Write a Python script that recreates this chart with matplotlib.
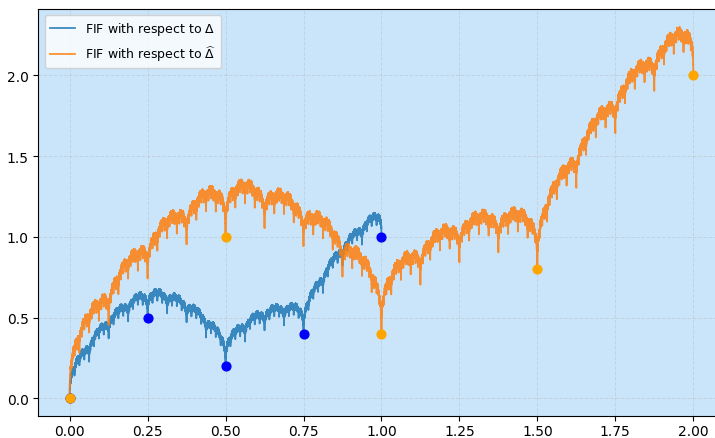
import numpy as np
import matplotlib.pyplot as plt

# interpolation data on the partition Delta and on the rescaled partition Delta-hat
x_delta = [0.0, 0.25, 0.5, 0.75, 1.0]
y_delta = [0.0, 0.5, 0.2, 0.4, 1.0]
x_hat = [0.0, 0.5, 1.0, 1.5, 2.0]
y_hat = [0.0, 1.0, 0.4, 0.8, 2.0]

scale = 0.55     # vertical scaling factor of each map
bump = 0.22      # height of the base function, relative to the total rise
levels = 8       # depth of the IFS iteration


def fif(xs, ys, scale, bump, levels):
    # alpha-fractal function: f(L_i x) = g(L_i x) + scale * (f(x) - b(x)),
    # g the polygon through the data, g - b a bump vanishing at the ends
    xs = np.asarray(xs)
    ys = np.asarray(ys)
    n = len(xs) - 1
    height = bump * (ys[-1] - ys[0])
    h = np.zeros(2)
    for _ in range(levels):
        t = np.linspace(0, 1, len(h))
        piece = scale * (h + height * np.sqrt(np.sin(np.pi * t).clip(0)))
        h = np.concatenate([piece[:-1]] * n + [piece[-1:]])
    t = np.linspace(0, 1, len(h))
    x = xs[0] + t * (xs[-1] - xs[0])
    return x, np.interp(x, xs, ys) + h


xb, fb = fif(x_delta, y_delta, scale, bump, levels)
xo, fo = fif(x_hat, y_hat, scale, bump, levels)

fig = plt.figure(figsize=(7.15, 4.39), dpi=100)
ax = fig.add_axes([0.0538, 0.0500, 0.9594, 0.9270])
ax.set_facecolor('#cae4f9')

ax.plot(xb, fb, color='#1f77b4', lw=1.3, alpha=0.85, label=r'FIF with respect to $\Delta$')
ax.plot(xo, fo, color='#ff7f0e', lw=1.3, alpha=0.85, label=r'FIF with respect to $\widehat{\Delta}$')
ax.scatter(x_delta, y_delta, color='blue', s=40, zorder=3)
ax.scatter(x_hat, y_hat, color='orange', s=40, zorder=3)

ax.set_xlim(-0.1, 2.1)
ax.set_ylim(-0.11, 2.41)
ax.set_xticks(np.arange(0, 2.01, 0.25))
ax.set_yticks(np.arange(0, 2.01, 0.5))
ax.tick_params(axis='x', pad=2)
ax.grid(True, linestyle='--', linewidth=0.7, alpha=0.35)
ax.legend(loc='upper left', fontsize=9)

fig.savefig('out.png', dpi=100)
